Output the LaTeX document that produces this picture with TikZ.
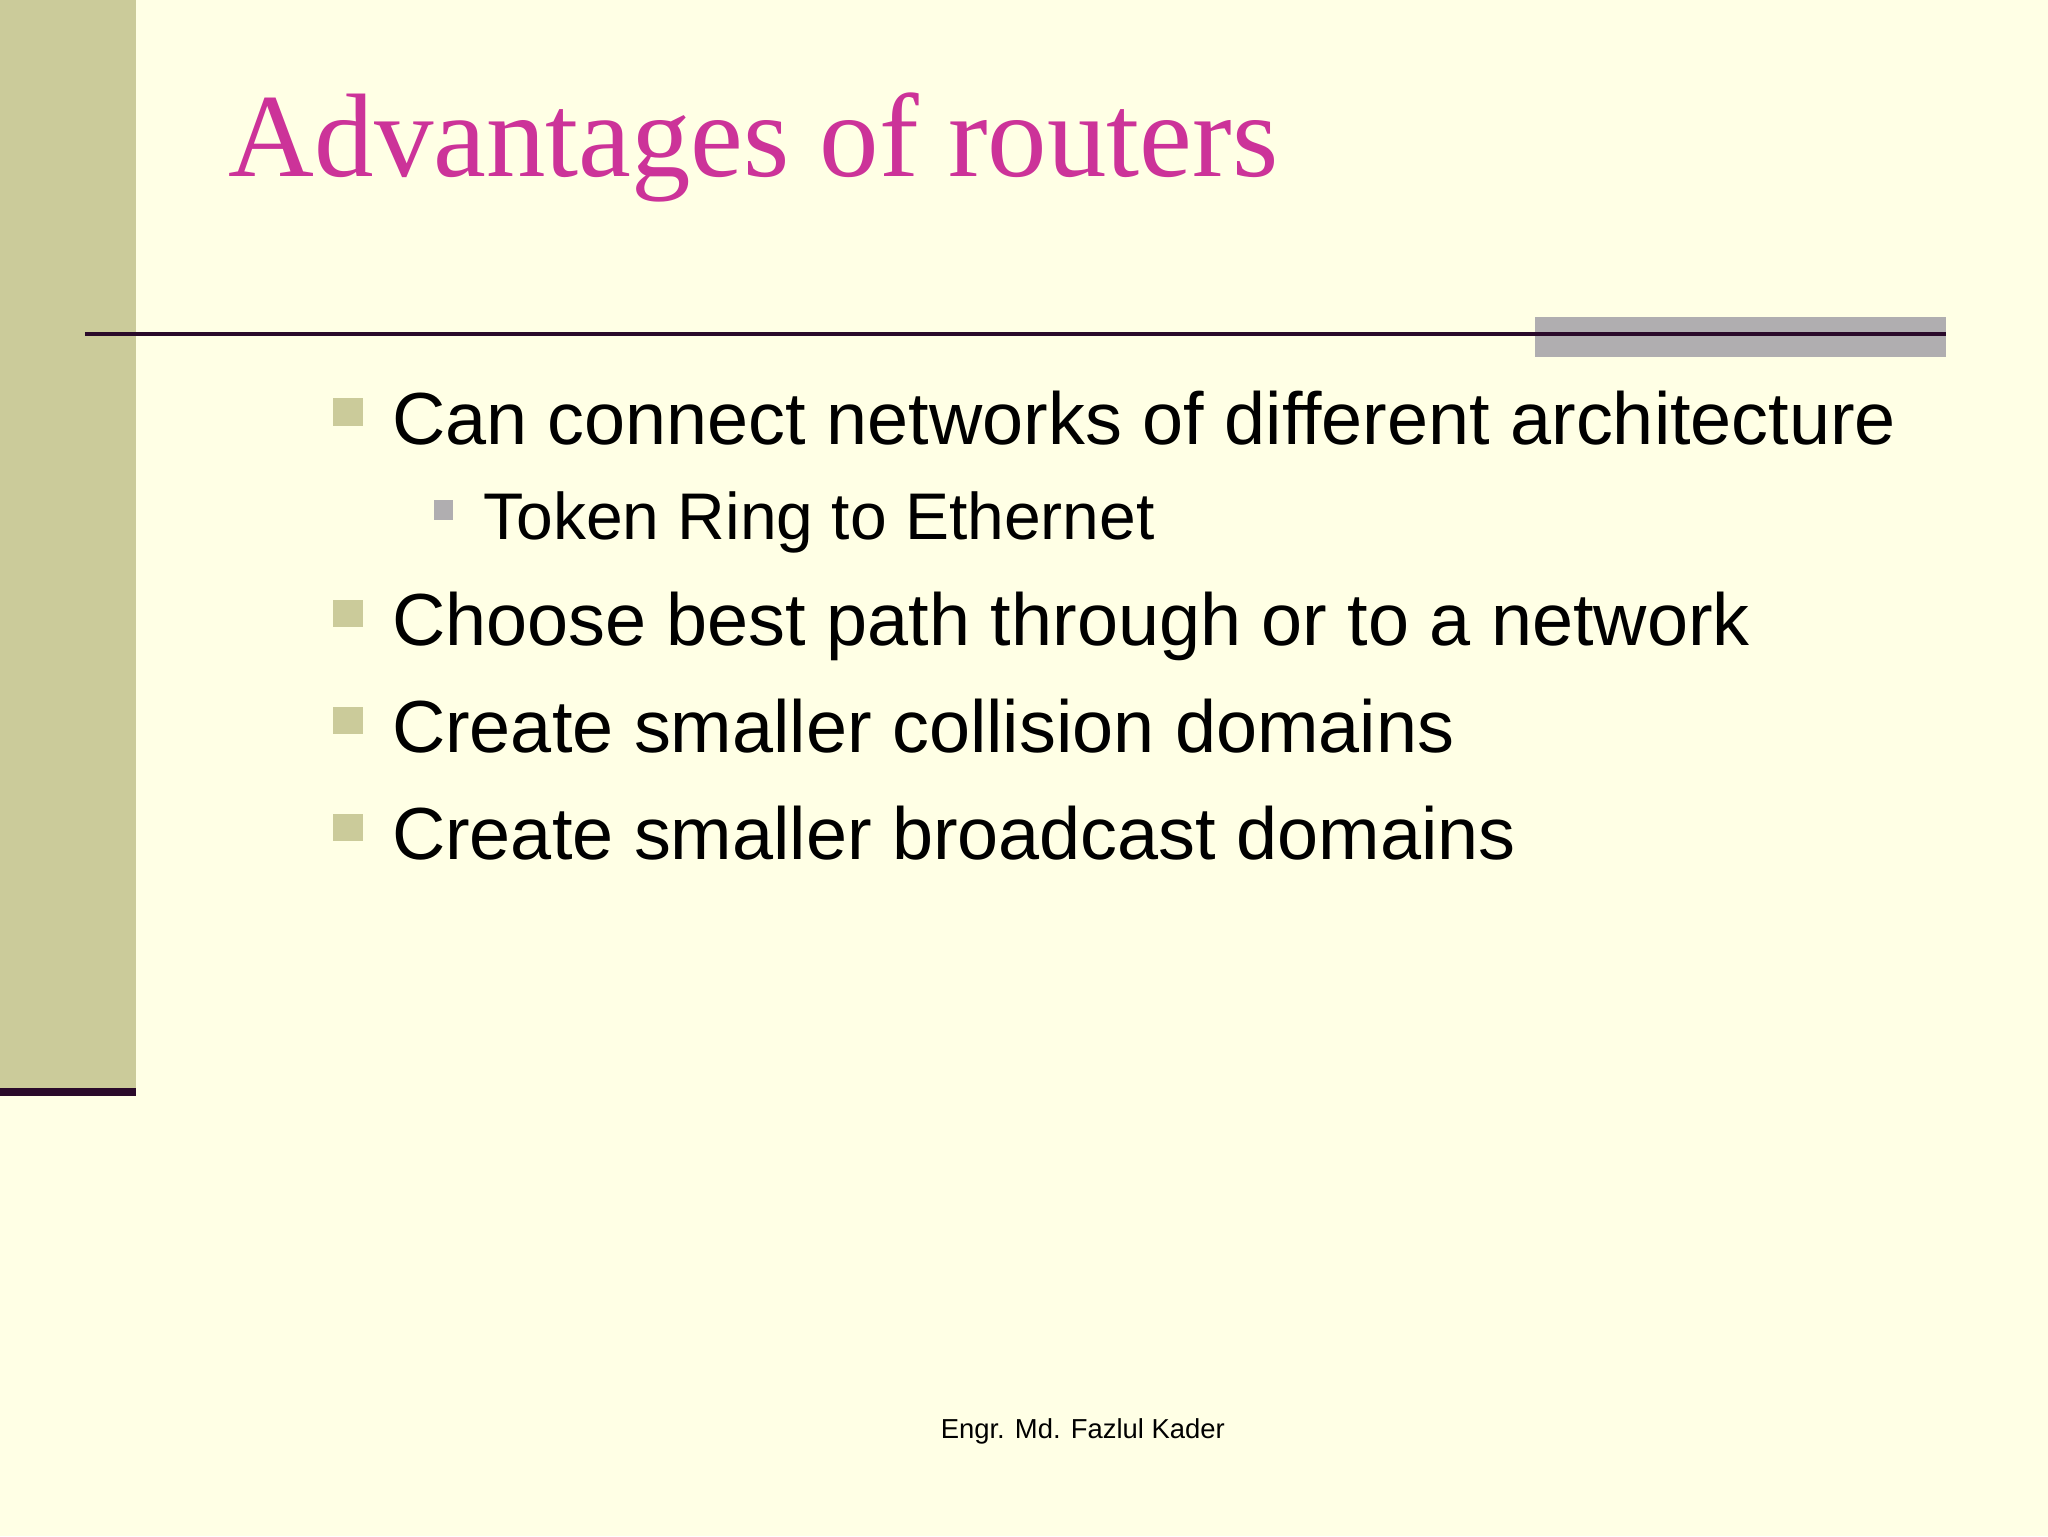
\documentclass[tikz,border=0pt]{standalone}
\usepackage{fontspec}
\setmainfont{Liberation Sans}
\newfontfamily\titlefont{Liberation Serif}
\definecolor{bg}{HTML}{FFFFE5}
\definecolor{olive}{HTML}{CBCB9A}
\definecolor{dpurp}{HTML}{2A0A2A}
\definecolor{mag}{HTML}{CC3399}
\definecolor{gbar}{HTML}{B0AEB0}
\tikzset{
 bul/.style={fill=olive,draw=none},
 btext/.style={anchor=base west,inner sep=0,font=\fontsize{56.5}{60}\selectfont},
}
\begin{document}
\begin{tikzpicture}[x=1pt,y=-1pt]
\fill[bg] (0,0) rectangle (1568,1176);
\useasboundingbox (0,0) rectangle (1568,1176);
\fill[olive] (0,0) rectangle (104,833);
\fill[dpurp] (0,833) rectangle (104,839);
\node[anchor=base west,inner sep=0,text=mag,font=\titlefont\fontsize{91}{100}\selectfont] (title) at (175,135) {Advantages of routers};
\fill[gbar] (1175,243) rectangle (1490,273);
\draw[dpurp,line width=3] (65,256) -- (1490,256);
\fill[bul] (255,305) rectangle (278,326);
\node[btext] (b1) at (300,340) {Can connect networks of different architecture};
\fill[gbar] (332,383) rectangle (347,398);
\node[btext,font=\fontsize{50.5}{54}\selectfont] (s1) at (370,413) {Token Ring to Ethernet};
\fill[bul] (255,459) rectangle (278,480);
\node[btext] (b2) at (300,494) {Choose best path through or to a network};
\fill[bul] (255,541) rectangle (278,562);
\node[btext] (b3) at (300,576) {Create smaller collision domains};
\fill[bul] (255,623) rectangle (278,644);
\node[btext] (b4) at (300,658) {Create smaller broadcast domains};
\node[anchor=base,inner sep=0,font=\fontsize{21}{23}\selectfont] (foot) at (829,1101) {Engr. Md. Fazlul Kader};
\end{tikzpicture}
\end{document}
